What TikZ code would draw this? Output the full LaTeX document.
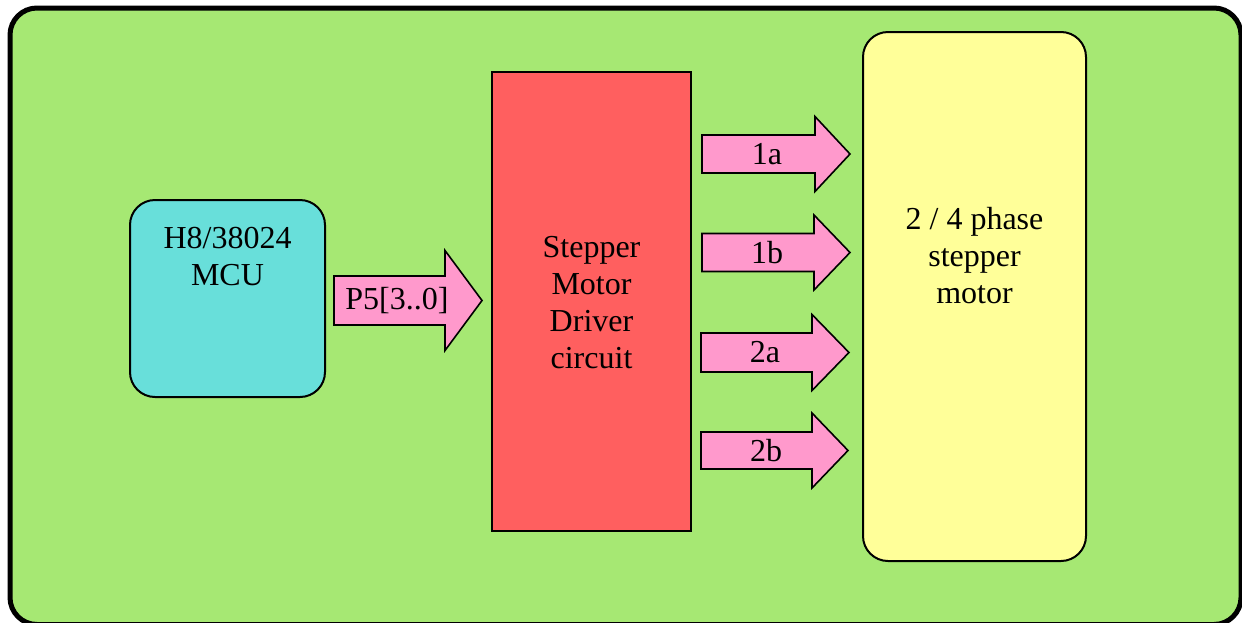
\documentclass[tikz,border=0pt]{standalone}
\usepackage{fontspec}
\setmainfont{Liberation Serif}
\newfontfamily\tms{Liberation Serif}
\definecolor{bggreen}{HTML}{A6E873}
\definecolor{mcucyan}{HTML}{68DFDA}
\definecolor{drvred}{HTML}{FF5F5F}
\definecolor{motyellow}{HTML}{FFFF99}
\definecolor{arrpink}{HTML}{FF99CC}
\tikzset{
  txt/.style={font=\tms\fontsize{32}{37}\selectfont, align=center, inner sep=0pt},
  blk/.style={draw=black, line width=1.6pt, line join=miter},
  box/.style={draw=black, line width=2pt, inner sep=0pt},
}
% name, x0, xhead, xtip, yc, halfbody, halfhead, labelx, text
\newcommand\blockarr[9]{%
  \draw[blk, fill=arrpink] (#2,#5-#6) -- (#3,#5-#6) -- (#3,#5-#7) -- (#4,#5)
     -- (#3,#5+#7) -- (#3,#5+#6) -- (#2,#5+#6) -- cycle;
  \node[txt] (#1) at (#8,#5) {#9};
}
\begin{document}
\begin{tikzpicture}[x=1pt,y=-1pt]
\useasboundingbox (0,0) rectangle (1242,622);
\begin{scope}
\clip (0,0) rectangle (1242,622);
\draw[line width=5pt, fill=bggreen, rounded corners=27pt] (10,8) rectangle (1241,624.5);
\end{scope}
% boxes
\node[box, fill=mcucyan, rounded corners=25pt, minimum width=195pt, minimum height=197pt] (mcu) at (227.5,298.5) {};
\node[txt] (mcutxt) at (227.5,256.5) {H8/38024\\MCU};
\node[box, fill=drvred, line width=2.5pt, minimum width=199pt, minimum height=459pt] (drv) at (591.5,301.5) {};
\node[txt] (drvtxt) at (591.5,303) {Stepper\\Motor\\Driver\\circuit};
\node[box, fill=motyellow, rounded corners=25pt, minimum width=223pt, minimum height=529pt] (mot) at (974.5,296.5) {};
\node[txt] (mottxt) at (974.5,255.5) {2 / 4 phase\\stepper\\motor};
% block arrows
\blockarr{p5}{334}{445}{482}{300.5}{24.5}{50}{397}{P5[3..0]}
\blockarr{a1}{702}{815}{850}{154}{19}{37.5}{767}{1a}
\blockarr{b1}{702}{814}{850}{252.5}{19}{37.5}{767}{1b}
\blockarr{a2}{701}{812}{849}{352.5}{19.5}{38}{765}{2a}
\blockarr{b2}{701}{812}{848}{450.5}{18.5}{37.5}{766}{2b}
\end{tikzpicture}
\end{document}
